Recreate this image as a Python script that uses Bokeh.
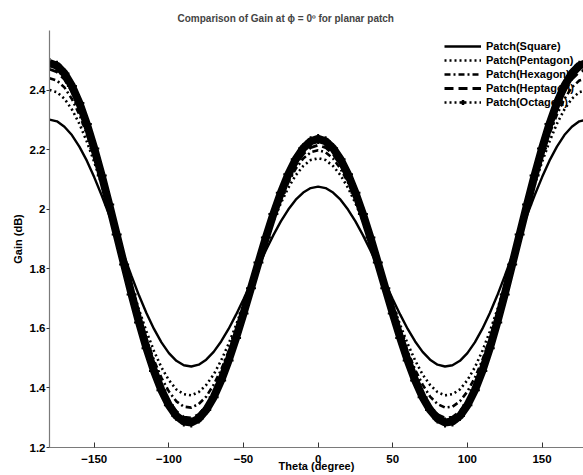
from bokeh.plotting import figure
from bokeh.models import (Range1d, FixedTicker, PrintfTickFormatter, Legend,
                          LegendItem, ColumnDataSource)
from bokeh.embed import file_html
from bokeh.resources import INLINE

# Elevation angle (degrees), sampled every 5 degrees
theta = list(range(-180, 181, 5))

# Gain (dB) for each patch shape
square = [2.301, 2.295, 2.277, 2.249, 2.210, 2.163, 2.107, 2.046, 1.980, 1.912,
          1.843, 1.775, 1.710, 1.651, 1.598, 1.553, 1.517, 1.491, 1.476, 1.472,
          1.478, 1.495, 1.521, 1.556, 1.598, 1.646, 1.698, 1.752, 1.808, 1.862,
          1.913, 1.959, 1.999, 2.032, 2.056, 2.071,
          2.076, 2.071, 2.056, 2.032, 1.999, 1.959, 1.913, 1.862, 1.808, 1.752,
          1.698, 1.646, 1.598, 1.556, 1.521, 1.495, 1.478, 1.472, 1.476, 1.491,
          1.517, 1.553, 1.598, 1.651, 1.710, 1.775, 1.843, 1.912, 1.980, 2.046,
          2.107, 2.163, 2.210, 2.249, 2.277, 2.295, 2.301]

pentagon = [2.400, 2.393, 2.371, 2.335, 2.287, 2.227, 2.158, 2.081, 1.998, 1.913,
            1.827, 1.743, 1.662, 1.589, 1.524, 1.469, 1.426, 1.395, 1.379, 1.375,
            1.386, 1.410, 1.445, 1.492, 1.548, 1.611, 1.680, 1.751, 1.823, 1.893,
            1.960, 2.020, 2.072, 2.114, 2.145, 2.165,
            2.171, 2.165, 2.145, 2.114, 2.072, 2.020, 1.960, 1.893, 1.823, 1.751,
            1.680, 1.611, 1.548, 1.492, 1.445, 1.410, 1.386, 1.375, 1.379, 1.395,
            1.426, 1.469, 1.524, 1.589, 1.662, 1.743, 1.827, 1.913, 1.998, 2.081,
            2.158, 2.227, 2.287, 2.335, 2.371, 2.393, 2.400]

hexagon = [2.440, 2.432, 2.409, 2.370, 2.318, 2.253, 2.178, 2.095, 2.006, 1.914,
           1.821, 1.729, 1.643, 1.564, 1.493, 1.434, 1.388, 1.355, 1.337, 1.334,
           1.346, 1.371, 1.411, 1.461, 1.522, 1.591, 1.665, 1.742, 1.821, 1.897,
           1.969, 2.034, 2.090, 2.136, 2.170, 2.191,
           2.198, 2.191, 2.170, 2.136, 2.090, 2.034, 1.969, 1.897, 1.821, 1.742,
           1.665, 1.591, 1.522, 1.461, 1.411, 1.371, 1.346, 1.334, 1.337, 1.355,
           1.388, 1.434, 1.493, 1.564, 1.643, 1.729, 1.821, 1.914, 2.006, 2.095,
           2.178, 2.253, 2.318, 2.370, 2.409, 2.432, 2.440]

heptagon = [2.470, 2.461, 2.436, 2.395, 2.340, 2.272, 2.192, 2.104, 2.010, 1.912,
            1.814, 1.717, 1.626, 1.542, 1.467, 1.405, 1.355, 1.321, 1.302, 1.299,
            1.311, 1.339, 1.380, 1.434, 1.498, 1.571, 1.650, 1.732, 1.815, 1.895,
            1.972, 2.041, 2.101, 2.149, 2.185, 2.207,
            2.215, 2.207, 2.185, 2.149, 2.101, 2.041, 1.972, 1.895, 1.815, 1.732,
            1.650, 1.571, 1.498, 1.434, 1.380, 1.339, 1.311, 1.299, 1.302, 1.321,
            1.355, 1.405, 1.467, 1.542, 1.626, 1.717, 1.814, 1.912, 2.010, 2.104,
            2.192, 2.272, 2.340, 2.395, 2.436, 2.461, 2.470]

octagon = [2.491, 2.482, 2.456, 2.414, 2.357, 2.286, 2.204, 2.113, 2.016, 1.915,
           1.814, 1.714, 1.620, 1.533, 1.457, 1.392, 1.342, 1.306, 1.287, 1.284,
           1.297, 1.326, 1.369, 1.425, 1.492, 1.568, 1.650, 1.735, 1.821, 1.905,
           1.984, 2.055, 2.117, 2.168, 2.205, 2.228,
           2.236, 2.228, 2.205, 2.168, 2.117, 2.055, 1.984, 1.905, 1.821, 1.735,
           1.650, 1.568, 1.492, 1.425, 1.369, 1.326, 1.297, 1.284, 1.287, 1.306,
           1.342, 1.392, 1.457, 1.533, 1.620, 1.714, 1.814, 1.915, 2.016, 2.113,
           2.204, 2.286, 2.357, 2.414, 2.456, 2.482, 2.491]

series_names = ["Patch(Square)", "Patch(Pentagon)", "Patch(Hexagon)",
                "Patch(Heptagon)", "Patch(Octagon)"]
x_ticks = [-150, -100, -50, 0, 50, 100, 150]
y_ticks = [1.2, 1.4, 1.6, 1.8, 2.0, 2.2, 2.4]

FONT = "Liberation Sans"

p = figure(width=583, height=475, output_backend="svg", toolbar_location=None,
           x_range=Range1d(-180, 177.8), y_range=Range1d(1.2, 2.6),
           min_border_left=49, min_border_right=0, min_border_top=30,
           min_border_bottom=28,
           title="Comparison of Gain at \u03d5 = 0\u00ba for planar patch")
p.outline_line_color = None
p.grid.visible = False
p.background_fill_color = "white"
p.border_fill_color = "white"

p.title.text_font = FONT
p.title.text_font_size = "10px"
p.title.text_font_style = "bold"
p.title.align = "left"
p.title.offset = 128
p.title.standoff = 13

for ax in (p.xaxis[0], p.yaxis[0]):
    ax.axis_line_color = "#7a7a7a"
    ax.axis_line_width = 1.2
    ax.major_tick_line_color = "#333333"
    ax.minor_tick_in = 0
    ax.minor_tick_out = 0
    ax.major_label_text_font = FONT
    ax.major_label_text_font_size = "11.5px"
    ax.major_label_text_font_style = "bold"
    ax.major_label_text_color = "black"
    ax.axis_label_text_font = FONT
    ax.axis_label_text_font_size = "11px"
    ax.axis_label_text_font_style = "bold"
    ax.axis_label_text_color = "black"

xa = p.xaxis[0]
xa.ticker = FixedTicker(ticks=x_ticks)
xa.major_tick_in = 5
xa.major_tick_out = 0
xa.major_label_standoff = 7
xa.axis_label = "Theta (degree)"
xa.axis_label_standoff = -6

ya = p.yaxis[0]
ya.ticker = FixedTicker(ticks=y_ticks)
ya.formatter = PrintfTickFormatter(format="%g")
ya.major_tick_in = 0
ya.major_tick_out = 3
ya.major_label_standoff = 1
ya.axis_label = "Gain (dB)"
ya.axis_label_standoff = 3

src = ColumnDataSource(dict(theta=theta, square=square, pentagon=pentagon,
                            hexagon=hexagon, heptagon=heptagon, octagon=octagon))

r_sq = p.line("theta", "square", source=src, line_color="black", line_width=2.4)
r_pe = p.line("theta", "pentagon", source=src, line_color="black", line_width=2.6,
              line_dash="2 3")
r_hx = p.line("theta", "hexagon", source=src, line_color="black", line_width=2.6,
              line_dash="6 3 2 3")
r_hp = p.line("theta", "heptagon", source=src, line_color="black", line_width=2.8,
              line_dash="9 5")
p.line("theta", "octagon", source=src, line_color="black", line_width=8)
p.scatter("theta", "octagon", source=src, marker="cross", size=10,
          line_color="black", line_width=2)

# legend key for the octagon series: dotted line with a plus marker
# (a single point far outside the visible ranges, so only the key shows)
key_src = ColumnDataSource(dict(x=[-1000], y=[-1000]))
k_oc_line = p.line("x", "y", source=key_src, line_color="black", line_width=2.6,
                   line_dash="2 3")
k_oc_mark = p.scatter("x", "y", source=key_src, marker="cross", size=9,
                      line_color="black", line_width=2.5)

legend = Legend(items=[
    LegendItem(label=series_names[0], renderers=[r_sq]),
    LegendItem(label=series_names[1], renderers=[r_pe]),
    LegendItem(label=series_names[2], renderers=[r_hx]),
    LegendItem(label=series_names[3], renderers=[r_hp]),
    LegendItem(label=series_names[4], renderers=[k_oc_line, k_oc_mark]),
], location=(395, 339), level="underlay")
legend.padding = 0
legend.margin = 0
legend.spacing = 2
legend.glyph_width = 37
legend.glyph_height = 12
legend.label_height = 12
legend.label_standoff = 5
legend.border_line_color = None
legend.background_fill_alpha = 0
legend.label_text_font = FONT
legend.label_text_font_size = "11px"
legend.label_text_font_style = "bold"
legend.label_text_color = "black"
p.add_layout(legend)

open("out.html", "w").write(file_html(p, INLINE))
